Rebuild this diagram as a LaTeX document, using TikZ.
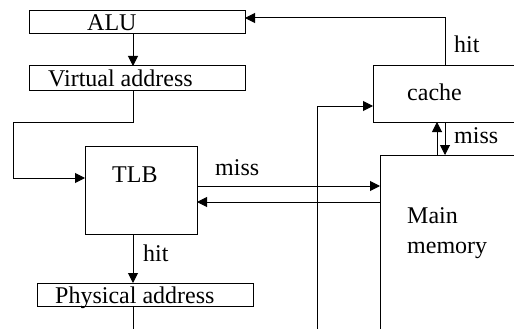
\documentclass[tikz,border=0pt]{standalone}
\usepackage{fontspec}
\setmainfont{Liberation Serif}
\usetikzlibrary{arrows.meta,calc}
\begin{document}
\begin{tikzpicture}[x=1pt,y=-1pt,
  box/.style={draw, line width=1pt, inner sep=0pt, outer sep=0pt, anchor=north west},
  lbl/.style={inner sep=0pt, anchor=base west, font=\fontsize{24}{29}\selectfont},
  line/.style={line width=1pt},
  arr/.style={line width=1pt, -{Triangle[length=10pt,width=10pt]}}]
\useasboundingbox (0,0) rectangle (514,329);
\clip (0,0) rectangle (514,329);
% boxes
\node[box, minimum width=216pt, minimum height=23pt] (alu) at (29,11) {};
\node[box, minimum width=216pt, minimum height=24pt] (va) at (29,66) {};
\node[box, minimum width=112pt, minimum height=88pt] (tlb) at (85,146) {};
\node[box, minimum width=216pt, minimum height=23pt] (pa) at (37,283) {};
\node[box, minimum width=160pt, minimum height=56pt] (cache) at (373,66) {};
\node[box, minimum width=160pt, minimum height=190pt] (mm) at (380,155) {};
% texts
\node[lbl] (taLU) at (87,31) {ALU};
\node[lbl] (tva) at (48,86) {Virtual address};
\node[lbl] (ttlb) at (112,182) {TLB};
\node[lbl] (tmiss1) at (215,175) {miss};
\node[lbl] (thit1) at (143,261) {hit};
\node[lbl] (tpa) at (55,303) {Physical address};
\node[lbl] (thit2) at (454,53) {hit};
\node[lbl] (tcache) at (407,100) {cache};
\node[lbl] (tmiss2) at (454,143) {miss};
\node[lbl] (tmain) at (407,223) {Main};
\node[lbl] (tmem) at (407,253) {memory};
% helper coordinates
\coordinate (col) at (133,0);
\coordinate (bend) at (13,122);
\coordinate (hitx) at (445,0);
\coordinate (upx) at (437,0);
\coordinate (bus) at (317,106);
\coordinate (busend) at (317,329);
\coordinate (paend) at (133,329);
\coordinate (toprow) at (0,18);
\coordinate (row1) at (0,178);
\coordinate (row2) at (0,186);
\coordinate (row3) at (0,202);
% connectors
\draw[arr] (alu.south -| col) -- (va.north -| col);
\draw[arr] (va.south -| col) -- (bend -| col) -- (bend) -- (bend |- row1) -- (tlb.west |- row1);
\draw[arr] (tlb.east |- row2) -- (mm.west |- row2);
\draw[arr] (mm.west |- row3) -- (tlb.east |- row3);
\draw[arr] (tlb.south -| col) -- (pa.north -| col);
\draw[line] (pa.south -| col) -- (paend);
\draw[arr] (cache.north -| hitx) -- (toprow -| hitx) -- (alu.east |- toprow);
\draw[arr] (busend) -- (bus) -- (cache.west |- bus);
\draw[arr] (mm.north -| upx) -- (cache.south -| upx);
\draw[arr] (cache.south -| hitx) -- (mm.north -| hitx);
\end{tikzpicture}
\end{document}
